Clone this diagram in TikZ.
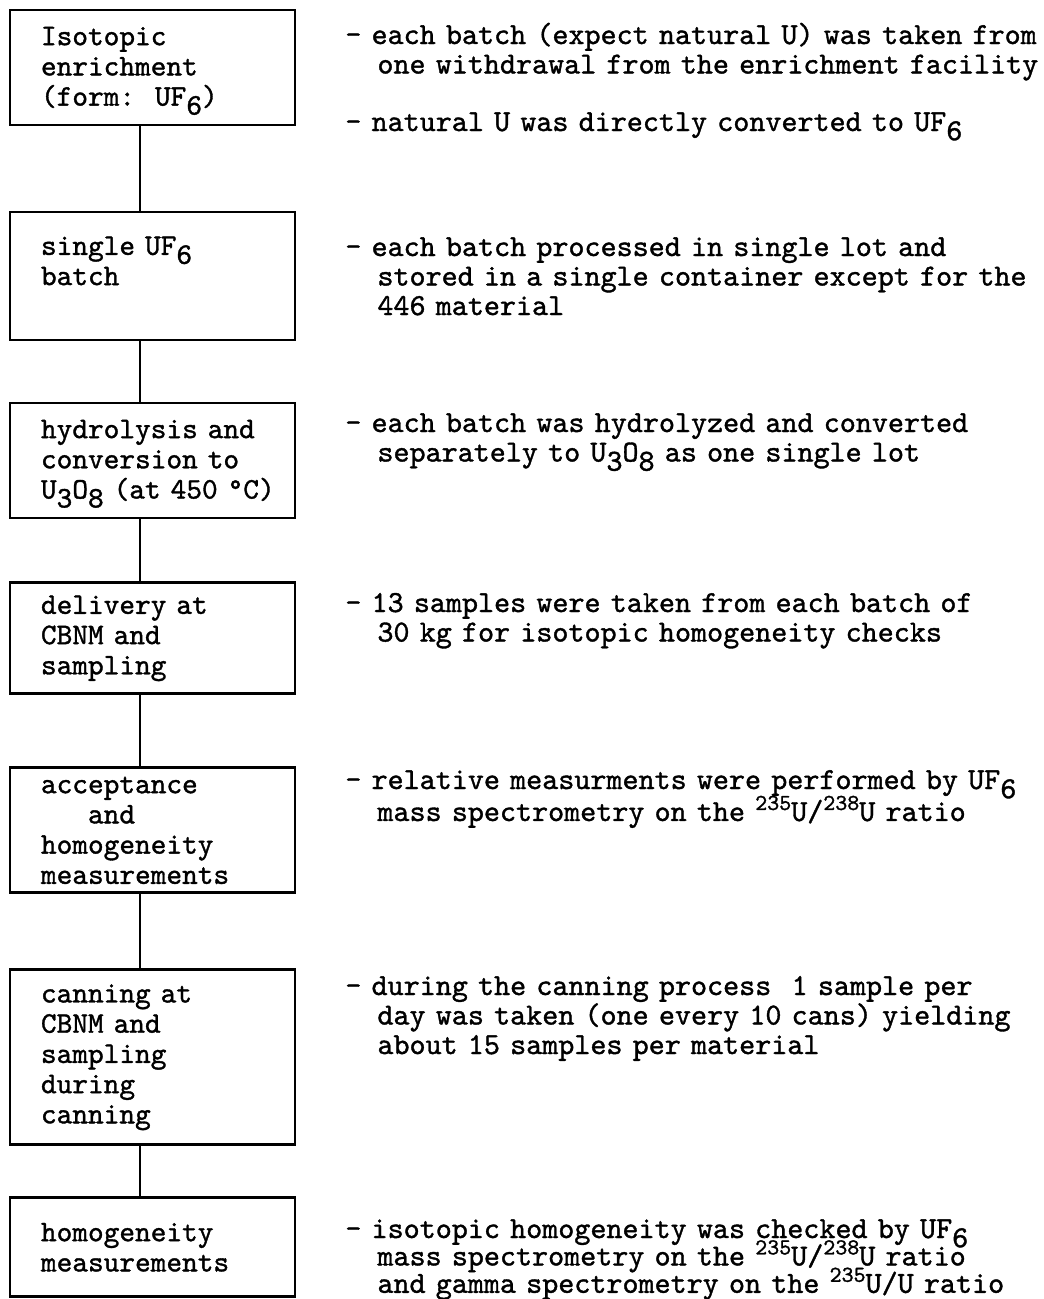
\documentclass[tikz,border=0pt]{standalone}
\usepackage{fontspec}
\setmonofont{lmmono10-regular.otf}[FakeBold=1.2]
\usetikzlibrary{positioning}
\newcommand{\subsc}[1]{\smash{\raisebox{-0.3em}{#1}}}
\newcommand{\supsc}[1]{\smash{\raisebox{0.22cm}{\fontsize{13}{13}\selectfont #1}}}
\newcommand{\contIndent}{\hspace*{1.05em}}

\begin{document}
\begin{tikzpicture}[x=0.02cm, y=-0.02cm,
    stage/.style={rectangle, draw, line width=1.6pt, outer sep=0pt,
      text width=4.46cm, inner xsep=0.62cm, inner ysep=0pt,
      align=left, font=\fontsize{17}{17.2}\selectfont\ttfamily},
    note/.style={anchor=base west, inner sep=0pt, text width=15cm,
      align=left, font=\fontsize{17.4}{16.8}\selectfont\ttfamily},
    closenote/.style={note, font=\fontsize{17.4}{15.6}\selectfont\ttfamily,
      execute at begin node={\lineskiplimit=-10pt}},
    link/.style={line width=1.6pt}
  ]
  \useasboundingbox (0,0) rectangle (1044,1299);

  % stages
  \node[stage, anchor=north west, minimum height=2.30cm] (enrich) at (10,10)
    {Isotopic\\enrichment\\(form:~~UF\subsc{6})};
  \node[stage, below=1.74cm of enrich, minimum height=2.56cm] (batch)
    {single UF\subsc{6}\\batch\\\mbox{}};
  \node[stage, below=1.26cm of batch, minimum height=2.30cm] (hydro)
    {hydrolysis and\\conversion to\\U\subsc{3}O\subsc{8}~(at~450~°C)};
  \node[stage, below=1.30cm of hydro, minimum height=2.22cm] (delivery)
    {delivery at\\CBNM and\\sampling};
  \node[stage, below=1.48cm of delivery, minimum height=2.50cm] (accept)
    {acceptance\\\hspace*{1.575em}and\\homogeneity\\measurements};
  \node[stage, below=1.54cm of accept, minimum height=3.50cm] (canning)
    {canning at\\CBNM and\\sampling\\during\\canning};
  \node[stage, below=1.06cm of canning, minimum height=1.98cm] (homog)
    {homogeneity\\measurements};

  \draw[link] ([xshift=-0.25cm]enrich.south) -- ([xshift=-0.25cm]batch.north);
  \draw[link] ([xshift=-0.25cm]batch.south) -- ([xshift=-0.25cm]hydro.north);
  \draw[link] ([xshift=-0.25cm]hydro.south) -- ([xshift=-0.25cm]delivery.north);
  \draw[link] ([xshift=-0.25cm]delivery.south) -- ([xshift=-0.25cm]accept.north);
  \draw[link] ([xshift=-0.25cm]accept.south) -- ([xshift=-0.25cm]canning.north);
  \draw[link] ([xshift=-0.25cm]canning.south) -- ([xshift=-0.25cm]homog.north);

  % remarks
  \node[note] (noteEnrich) at (345,44)
    {-~each batch (expect natural U) was taken from\\\contIndent one withdrawal from the enrichment facility};
  \node[note] (noteNatural) at (345,131)
    {-~natural U was directly converted to UF\subsc{6}};
  \node[note] (noteBatch) at (345,256)
    {-~each batch processed in single lot and\\\contIndent stored in a single container except for the\\\contIndent 446 material};
  \node[note] (noteHydro) at (345,432)
    {-~each batch was hydrolyzed and converted\\\contIndent separately to U\subsc{3}O\subsc{8} as one single lot};
  \node[note] (noteDelivery) at (345,612)
    {-~13 samples were taken from each batch of\\\contIndent 30 kg for isotopic homogeneity checks};
  \node[note, font=\fontsize{17.4}{18.2}\selectfont\ttfamily] (noteAccept) at (345,789)
    {-~relative measurments were performed by UF\subsc{6}\\\contIndent mass spectrometry on the \supsc{235}U/\supsc{238}U ratio};
  \node[note] (noteCanning) at (345,995)
    {-~during the canning process~~1 sample per\\\contIndent day was taken (one every 10 cans) yielding\\\contIndent about 15 samples per material};
  \node[closenote] (noteHomog) at (345,1238)
    {-~isotopic homogeneity was checked by UF\subsc{6}\\\contIndent mass spectrometry on the \supsc{235}U/\supsc{238}U ratio\\\contIndent and gamma spectrometry on the \supsc{235}U/U ratio};
\end{tikzpicture}
\end{document}
